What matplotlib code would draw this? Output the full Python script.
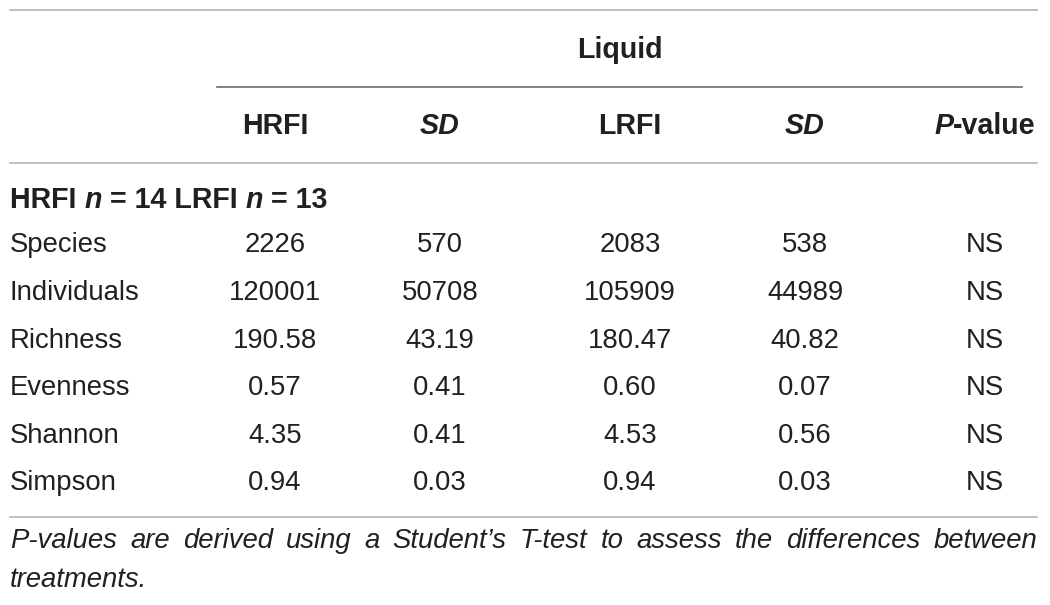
import matplotlib
matplotlib.use("Agg")
import matplotlib.pyplot as plt

plt.rcParams['font.family'] = ['Liberation Sans', 'DejaVu Sans']

# table content
group_label = 'Liquid'
col_labels = ['HRFI', 'SD', 'LRFI', 'SD', 'P-value']
subheader = [('HRFI ', 'normal'), ('n', 'italic'), (' = 14 LRFI ', 'normal'),
             ('n', 'italic'), (' = 13', 'normal')]
row_labels = ['Species', 'Individuals', 'Richness', 'Evenness', 'Shannon', 'Simpson']
hrfi = ['2226', '120001', '190.58', '0.57', '4.35', '0.94']
hrfi_sd = ['570', '50708', '43.19', '0.41', '0.41', '0.03']
lrfi = ['2083', '105909', '180.47', '0.60', '4.53', '0.94']
lrfi_sd = ['538', '44989', '40.82', '0.07', '0.56', '0.03']
p_values = ['NS', 'NS', 'NS', 'NS', 'NS', 'NS']
footnote = ("P-values are derived using a Student\u2019s T-test to assess the differences between",
            "treatments.")

W, H = 1050, 605
fig = plt.figure(figsize=(W / 100, H / 100), dpi=100)
ax = fig.add_axes([0, 0, 1, 1])
ax.set_xlim(0, W)
ax.set_ylim(H, 0)
ax.axis('off')
fig.canvas.draw()
renderer = fig.canvas.get_renderer()

fs = 19.8      # body text
fs_b = 20.6    # bold headers
col_x = [275, 440, 630, 805, 985]
row_y = [245, 293, 341, 388, 436, 483]
ink = '#231f20'


def width_of(t):
    return t.get_window_extent(renderer).width


def runs(x, y, parts, align='left'):
    # draw a line of text made of pieces with different styles
    arts = [ax.text(0, y, s, ha='left', va='center', fontsize=fs_b, fontweight='bold',
                    style=st, color=ink) for s, st in parts]
    ws = [width_of(a) for a in arts]
    if align == 'center':
        x = x - sum(ws) / 2
    for a, w in zip(arts, ws):
        a.set_x(x)
        x += w


# rules
ax.plot([10, 1037], [10, 10], color='#b4b4b4', lw=1.2)
ax.plot([217, 1022], [87, 87], color='#6e6e6e', lw=1.2)
ax.plot([10, 1037], [163, 163], color='#b4b4b4', lw=1.2)
ax.plot([10, 1037], [517, 517], color='#b4b4b4', lw=1.2)

# headers
ax.text(620, 50, group_label, ha='center', va='center', fontsize=fs_b, fontweight='bold', color=ink)
for x, lab in zip(col_x, col_labels):
    if lab == 'SD':
        ax.text(x, 126, lab, ha='center', va='center', fontsize=fs_b, fontweight='bold',
                style='italic', color=ink)
    elif lab == 'P-value':
        runs(x, 126, [('P', 'italic'), ('-value', 'normal')], align='center')
    else:
        ax.text(x, 126, lab, ha='center', va='center', fontsize=fs_b, fontweight='bold', color=ink)

runs(10, 200, subheader)

columns = [hrfi, hrfi_sd, lrfi, lrfi_sd, p_values]
for i, name in enumerate(row_labels):
    y = row_y[i]
    ax.text(10, y, name, ha='left', va='center', fontsize=fs, color=ink)
    for x, col in zip(col_x, columns):
        ax.text(x, y, col[i], ha='center', va='center', fontsize=fs, color=ink)

# justified footnote, first line stretched to the full width
words = footnote[0].split(' ')
artists = [ax.text(0, 541, w, ha='left', va='center', fontsize=fs, style='italic', color=ink)
           for w in words]
widths = [width_of(a) for a in artists]
gap = (1037 - 10 - sum(widths)) / (len(words) - 1)
x = 10
for a, w in zip(artists, widths):
    a.set_x(x)
    x += w + gap
ax.text(10, 580, footnote[1], ha='left', va='center', fontsize=fs, style='italic', color=ink)

fig.savefig('out.png', dpi=100)
